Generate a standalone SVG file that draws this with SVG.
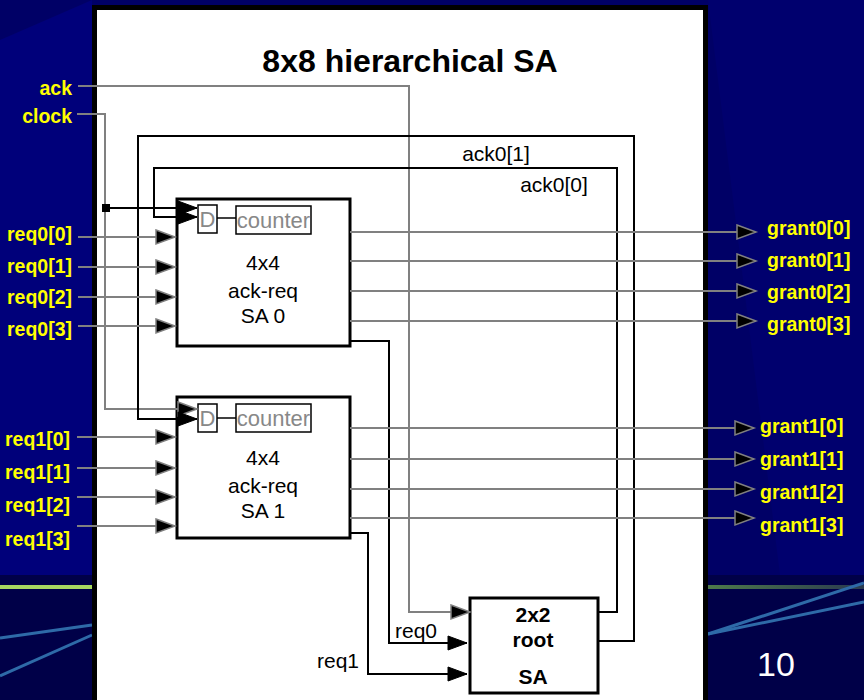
<svg xmlns="http://www.w3.org/2000/svg" width="864" height="700" viewBox="0 0 864 700">
<defs>
<style>
.lbl{font-family:"Liberation Sans",Arial,sans-serif;font-weight:bold;font-size:19.5px;fill:#FFFF00}
.txt{font-family:"Liberation Sans",Arial,sans-serif;font-size:21px;fill:#000}
.bt{font-family:"Liberation Sans",Arial,sans-serif;font-weight:bold;font-size:21px;fill:#000}
.gt{font-family:"Liberation Sans",Arial,sans-serif;font-size:22px;fill:#888}
.g{stroke:#808080;stroke-width:2;fill:none}
.k{stroke:#000;stroke-width:2;fill:none}
.box{fill:#fff;stroke:#000;stroke-width:3}
.sm{fill:#fff;stroke:#000;stroke-width:1.5}
</style>
<marker id="ag" markerUnits="userSpaceOnUse" markerWidth="24" markerHeight="18" refX="20" refY="8" orient="auto">
<path d="M1,1 L20,8 L1,15 Z" fill="#000" stroke="#808080" stroke-width="1.5"/>
</marker>
<marker id="ak" markerUnits="userSpaceOnUse" markerWidth="24" markerHeight="18" refX="20" refY="8" orient="auto">
<path d="M1,1 L20,8 L1,15 Z" fill="#000" stroke="#000" stroke-width="1"/>
</marker>
<linearGradient id="gr" x1="0" y1="0" x2="1" y2="0">
<stop offset="0" stop-color="#4E7A4A"/>
<stop offset="1" stop-color="#2A3A50"/>
</linearGradient>
</defs>
<g id="background">
<rect x="0" y="0" width="864" height="700" fill="#000066"/>
<polygon points="0,40 92,0 92,575 0,575" fill="#00007A"/>
<polygon points="708,0 864,0 864,575 780,575" fill="#00006E"/>
<rect x="0" y="575" width="864" height="125" fill="#000048"/>
<rect x="0" y="585" width="92" height="4" fill="#A8D860"/>
<rect x="708" y="585" width="156" height="4" fill="url(#gr)"/>
<line x1="0" y1="638" x2="92" y2="625" stroke="#2E6AA8" stroke-width="3"/>
<line x1="0" y1="676" x2="92" y2="635" stroke="#2E6AA8" stroke-width="3"/>
<line x1="708" y1="634" x2="864" y2="583" stroke="#2E6AA8" stroke-width="3"/>
<line x1="708" y1="634" x2="864" y2="602" stroke="#2E6AA8" stroke-width="3"/>
<text x="776" y="676" text-anchor="middle" style="font-family:'Liberation Sans',Arial,sans-serif;font-size:34px;fill:#fff">10</text>
</g>
<g id="panel">
<rect x="94.5" y="7.5" width="611" height="700" fill="#fff" stroke="#000" stroke-width="5"/>
<text x="410" y="72" text-anchor="middle" style="font-family:'Liberation Sans',Arial,sans-serif;font-weight:bold;font-size:32px;fill:#000">8x8 hierarchical SA</text>
</g>
<g id="sa0">
<rect class="box" x="177" y="199" width="173" height="147"/>
<rect class="sm" x="198" y="205" width="19" height="28"/>
<text class="gt" x="207.5" y="227" text-anchor="middle">D</text>
<line x1="217" y1="218" x2="236" y2="218" stroke="#000" stroke-width="1.5"/>
<rect class="sm" x="236" y="206" width="75" height="28"/>
<text class="gt" x="273.5" y="228" text-anchor="middle">counter</text>
<text class="txt" x="263" y="270" text-anchor="middle">4x4</text>
<text class="txt" x="263" y="298" text-anchor="middle">ack-req</text>
<text class="txt" x="263" y="323" text-anchor="middle">SA 0</text>
</g>
<g id="sa1">
<rect class="box" x="177" y="397" width="173" height="141"/>
<rect class="sm" x="198" y="404" width="19" height="28"/>
<text class="gt" x="207.5" y="426" text-anchor="middle">D</text>
<line x1="217" y1="418" x2="236" y2="418" stroke="#000" stroke-width="1.5"/>
<rect class="sm" x="236" y="404" width="75" height="28"/>
<text class="gt" x="273.5" y="426" text-anchor="middle">counter</text>
<text class="txt" x="263" y="465" text-anchor="middle">4x4</text>
<text class="txt" x="263" y="493" text-anchor="middle">ack-req</text>
<text class="txt" x="263" y="518" text-anchor="middle">SA 1</text>
</g>
<g id="root">
<rect class="box" x="470" y="598" width="128" height="95"/>
<text class="bt" x="533" y="622" text-anchor="middle">2x2</text>
<text class="bt" x="533" y="647" text-anchor="middle">root</text>
<text class="bt" x="533" y="684" text-anchor="middle">SA</text>
</g>
<g id="connectors">
<polyline class="g" points="78,86 409,86 409,612 470,612" marker-end="url(#ag)"/>
<polyline class="g" points="77,114 105,114 105,409 197,409" marker-end="url(#ag)"/>
<polyline class="k" points="106,208 197,208" marker-end="url(#ak)"/>
<rect x="102" y="204" width="8" height="8" fill="#000"/>
<polyline class="k" points="598,641 634,641 634,136 138,136 138,419 197,419" marker-end="url(#ak)"/>
<polyline class="k" points="598,612 617,612 617,168 154,168 154,217 197,217" marker-end="url(#ak)"/>
<polyline class="k" points="350,341 389,341 389,643 467,643" marker-end="url(#ak)"/>
<polyline class="k" points="350,533 368,533 368,674 467,674" marker-end="url(#ak)"/>
<line class="g" x1="78" y1="237" x2="175" y2="237" marker-end="url(#ag)"/>
<line class="g" x1="78" y1="267" x2="175" y2="267" marker-end="url(#ag)"/>
<line class="g" x1="78" y1="297" x2="175" y2="297" marker-end="url(#ag)"/>
<line class="g" x1="78" y1="326" x2="175" y2="326" marker-end="url(#ag)"/>
<line class="g" x1="77" y1="437" x2="175" y2="437" marker-end="url(#ag)"/>
<line class="g" x1="77" y1="468" x2="175" y2="468" marker-end="url(#ag)"/>
<line class="g" x1="77" y1="497" x2="175" y2="497" marker-end="url(#ag)"/>
<line class="g" x1="77" y1="526" x2="175" y2="526" marker-end="url(#ag)"/>
<line class="g" x1="350" y1="232" x2="756" y2="232" marker-end="url(#ag)"/>
<line class="g" x1="350" y1="261" x2="756" y2="261" marker-end="url(#ag)"/>
<line class="g" x1="350" y1="291" x2="756" y2="291" marker-end="url(#ag)"/>
<line class="g" x1="350" y1="321" x2="756" y2="321" marker-end="url(#ag)"/>
<line class="g" x1="350" y1="428" x2="754" y2="428" marker-end="url(#ag)"/>
<line class="g" x1="350" y1="459" x2="754" y2="459" marker-end="url(#ag)"/>
<line class="g" x1="350" y1="489" x2="754" y2="489" marker-end="url(#ag)"/>
<line class="g" x1="350" y1="518" x2="754" y2="518" marker-end="url(#ag)"/>
<text class="txt" x="496" y="161" text-anchor="middle">ack0[1]</text>
<text class="txt" x="554" y="192" text-anchor="middle">ack0[0]</text>
<text class="txt" x="395" y="638">req0</text>
<text class="txt" x="359" y="668" text-anchor="end">req1</text>
</g>
<g id="labels">
<text class="lbl" x="72" y="95" text-anchor="end">ack</text>
<text class="lbl" x="72" y="123" text-anchor="end">clock</text>
<text class="lbl" x="72" y="241" text-anchor="end">req0[0]</text>
<text class="lbl" x="72" y="273" text-anchor="end">req0[1]</text>
<text class="lbl" x="72" y="304" text-anchor="end">req0[2]</text>
<text class="lbl" x="72" y="336" text-anchor="end">req0[3]</text>
<text class="lbl" x="70" y="446" text-anchor="end">req1[0]</text>
<text class="lbl" x="70" y="479" text-anchor="end">req1[1]</text>
<text class="lbl" x="70" y="512" text-anchor="end">req1[2]</text>
<text class="lbl" x="70" y="546" text-anchor="end">req1[3]</text>
<text class="lbl" x="767" y="235">grant0[0]</text>
<text class="lbl" x="767" y="267">grant0[1]</text>
<text class="lbl" x="767" y="299">grant0[2]</text>
<text class="lbl" x="767" y="331">grant0[3]</text>
<text class="lbl" x="760" y="433">grant1[0]</text>
<text class="lbl" x="760" y="466">grant1[1]</text>
<text class="lbl" x="760" y="499">grant1[2]</text>
<text class="lbl" x="760" y="532">grant1[3]</text>
</g>
</svg>
